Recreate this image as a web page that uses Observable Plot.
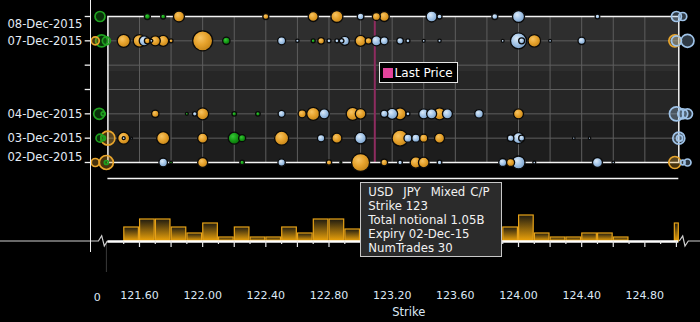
<!DOCTYPE html>
<html><head><meta charset="utf-8">
<script src="https://cdn.jsdelivr.net/npm/d3@7"></script>
<script src="https://cdn.jsdelivr.net/npm/@observablehq/plot@0.6"></script>
<style>
html,body{margin:0;padding:0;background:#000;}
#wrap{position:relative;width:700px;height:322px;overflow:hidden;background:#000;font-family:"DejaVu Sans",sans-serif;}
#wrap svg{position:absolute;left:0;top:0;}
.axisline{position:absolute;left:90px;top:0;width:1.4px;height:252px;background:#f0f0f0;}
#lastLabel{position:absolute;box-sizing:border-box;height:21px;border:1px solid #e6e6e6;background:#000;color:#fff;font-size:12px;display:flex;align-items:center;padding:0 4px 0 3px;white-space:nowrap;}
#lastLabel .sw{width:10px;height:10px;background:#e2449c;margin-right:2px;}
#tip{position:absolute;box-sizing:border-box;width:142px;height:75px;border:1px solid #c8c8c8;background:#2b2b2b;color:#f2f2f2;font-size:11.7px;line-height:14px;padding:1.5px 0 0 7.6px;white-space:pre;}
#tip .l1{word-spacing:1.3px;}
#tip div{height:14px;}
</style></head>
<body><div id="wrap"></div>
<script>
// ---------- data ----------
const axisDays = ["2015-12-02","2015-12-03","2015-12-04","2015-12-05","2015-12-06","2015-12-07","2015-12-08"];
const labelDaysMid = ["2015-12-03","2015-12-04","2015-12-07"];
const labelDayTop = ["2015-12-08"];
const labelDayBottom = ["2015-12-02"];

// types: M = Mixed C/P (orange), C = Call (blue), P = Put (green)
const strikes08 = [121.65,121.75,121.85,122.4,122.7,122.85,123.0,123.1,123.15,123.45,123.5,123.85,124.0,124.5];
const notional08 = [117,81,392,117,324,467,140,207,324,392,81,117,467,69];
const types08 = ["P","P","M","M","M","M","C","M","M","C","C","C","C","C"];

const strikes07 = [121.5,121.6,121.63,121.65,121.675,121.7,121.75,121.8,122.0,122.15,122.5,122.6,122.7,122.75,122.8,122.85,122.88,122.9,123.0,123.05,123.1,123.15,123.25,123.3,123.4,123.5,123.9,124.0,124.02,124.1,124.2,124.4];
const notional07 = [548,514,324,117,29,324,392,52,1296,176,207,37,52,140,52,52,69,263,392,140,324,207,140,52,29,37,29,830,117,514,29,176];
const types07 = ["M","M","C","M","C","M","M","M","M","P","C","C","P","M","C","C","C","C","M","M","C","C","C","C","C","C","C","C","C","M","C","C"];

const strikes04 = [121.7,121.9,121.95,122.0,122.2,122.35,122.5,122.63,122.7,122.77,122.95,123.0,123.15,123.2,123.25,123.3,123.4,123.45,123.5,123.55,123.75,124.0];
const notional04 = [176,29,69,467,69,69,159,207,548,324,548,364,176,392,467,52,324,324,467,324,240,324];
const types04 = ["M","P","C","M","P","P","C","M","M","C","M","M","C","C","M","C","C","C","M","C","C","M"];

const strikes03 = [121.5,121.5,121.55,121.75,122.0,122.2,122.25,122.5,122.75,122.85,123.0,123.25,123.3,123.35,123.4,123.5,123.95,124.0,124.02,124.35,124.45];
const notional03 = [467,29,13,548,324,467,159,635,176,324,421,830,207,207,207,324,140,392,117,22,19];
const types03 = ["M","C","C","M","M","P","P","M","C","M","C","M","C","C","M","M","C","C","C","C","C"];

const strikes02 = [121.75,121.8,122.0,122.25,122.5,122.8,122.875,123.0,123.15,123.25,123.35,123.4,123.5,123.9,123.95,124.0,124.1,124.5,124.6];
const notional02 = [240,22,324,69,176,94,13,1050,140,69,421,364,69,207,207,548,29,324,22];
const types02 = ["C","P","M","P","C","M","P","M","M","C","M","M","C","C","M","C","C","C","C"];

// off-scale trades shown at the axis edges
const edgeDays = ["2015-12-08","2015-12-07","2015-12-07","2015-12-07","2015-12-04","2015-12-04","2015-12-03","2015-12-03","2015-12-03","2015-12-02","2015-12-02","2015-12-02","2015-12-08","2015-12-08","2015-12-07","2015-12-07","2015-12-07","2015-12-04","2015-12-04","2015-12-04","2015-12-03","2015-12-03","2015-12-02","2015-12-02","2015-12-02"];
const edgeStrikes = [121.35,121.32,121.36,121.39,121.345,121.37,121.35,121.37,121.4,121.32,121.39,121.39,125.0,125.04,124.99,125.0,125.07,125.0,125.04,125.07,125.015,125.02,124.99,125.04,125.07];
const edgeNotional = [324,207,467,207,392,52,207,69,635,207,635,52,324,207,467,324,548,635,324,324,467,117,467,69,159];
const edgeTypes = ["P","M","P","P","P","P","P","P","M","M","M","P","C","C","M","C","C","C","C","C","C","C","M","C","C"];

// histogram by strike bucket (0.10 wide)
const histLo = [121.5,121.6,121.7,121.8,121.9,122.0,122.1,122.2,122.3,122.4,122.5,122.6,122.7,122.8,122.9,123.0,123.1,123.2,123.3,123.4,123.5,123.6,123.7,123.8,123.9,124.0,124.1,124.2,124.3,124.4,124.5,124.6];
const histVal = [7,11,11,7,4,9,2,7,2,2,7,4,11,11,6,14,9,8,9,8,7,3,3,4,7,13,4,2,2,4,4,2];
const overflowVal = [9];
const lowLabel = ["0"];

const lastPrice = 123.09;
const hovered = {day:"2015-12-02", strike:123.0, notional:1050, type:"M", trades:30, pair:"USD  JPY"};

const xTickLabels = [121.6,122.0,122.4,122.8,123.2,123.6,124.0,124.4,124.8];
const typeNames = {M:"Mixed C/P", C:"Call", P:"Put"};

// ---------- build ----------
const parse = s => new Date(s + "T00:00:00Z");
const rows = [["2015-12-08",strikes08,notional08,types08],["2015-12-07",strikes07,notional07,types07],["2015-12-04",strikes04,notional04,types04],["2015-12-03",strikes03,notional03,types03],["2015-12-02",strikes02,notional02,types02]];
const bubbles = rows.flatMap(([d,s,n,t]) => s.map((k,i)=>({date:parse(d), strike:k, notional:n[i], type:t[i]}))).sort((a,b)=>b.notional-a.notional);
const edges = edgeDays.map((d,i)=>({date:parse(d), strike:edgeStrikes[i], notional:edgeNotional[i], type:edgeTypes[i]})).sort((a,b)=>b.notional-a.notional);
const hist = histLo.map((lo,i)=>({lo, hi:Math.round((lo+0.1)*100)/100, v:histVal[i]}));
const dayDates = axisDays.map(parse);

const X_DOMAIN = [121.4, 125.015];
const ML = 107.4, MR = 700 - 678.3;
const HIST_TOP = 31.5;
const gridStrikes = d3.range(1216, 1249, 2).map(d=>d/10);
const longTicks = d3.range(1216, 1251, 2).map(d=>d/10);
const shortTicks = d3.range(1215, 1250, 2).map(d=>d/10);
const fmtDay = d3.utcFormat("%d-%b-%Y");
const ringColor = {M:"#e8a52c", C:"#9fc3e8", P:"#1f9f1f"};

const topDefs = () => {
  const defs = d3.create("svg:defs");
  const bands = defs.append("linearGradient").attr("id","bands").attr("x1",0).attr("y1",0).attr("x2",0).attr("y2",1);
  [[0,"#2e2e2e"],[0.375,"#2e2e2e"],[0.375,"#262626"],[0.717,"#262626"],[0.717,"#1d1d1d"],[1,"#1d1d1d"]].forEach(([o,c])=>bands.append("stop").attr("offset",o).attr("stop-color",c));
  const grads = {M:["#f7c462","#e6a22c","#c7871a"], C:["#dcebf9","#a4c5e7","#7da3cc"], P:["#37c737","#169c16","#0a720a"]};
  for (const [k,[a,b,c]] of Object.entries(grads)) {
    const g = defs.append("radialGradient").attr("id","bub-"+k).attr("cx",0.4).attr("cy",0.38).attr("r",0.62).attr("fx",0.38).attr("fy",0.35);
    g.append("stop").attr("offset",0).attr("stop-color",a);
    g.append("stop").attr("offset",0.55).attr("stop-color",b);
    g.append("stop").attr("offset",1).attr("stop-color",c);
  }
  return defs.node();
};

const wrap = document.getElementById("wrap");

const topPlot = Plot.plot({
  width:700, height:322,
  marginLeft:ML, marginRight:MR, marginTop:16, marginBottom:160,
  style:{background:"transparent", color:"#e4ecf6", fontFamily:"DejaVu Sans", overflow:"visible"},
  x:{domain:X_DOMAIN, axis:null},
  y:{type:"utc", domain:[dayDates[0], dayDates[6]], axis:null},
  r:{domain:[0,1050], range:[0,9]},
  color:{type:"identity"},
  marks:[
    topDefs,
    Plot.frame({fill:"url(#bands)", stroke:"none"}),
    Plot.ruleX(gridStrikes, {stroke:"#5e5e5e", strokeWidth:1}),
    Plot.ruleY(dayDates.slice(1,6), {stroke:"#5e5e5e", strokeWidth:1}),
    Plot.ruleX([lastPrice], {stroke:"#8e2c60", strokeWidth:2}),
    Plot.frame({stroke:"#f4f4f4", strokeWidth:1.5}),
    Plot.axisY(dayDates, {anchor:"left", tickSize:6, dx:-16.7, stroke:"#f0f0f0", strokeWidth:1.3, fill:"none"}),
    Plot.dot(edges, {x:"strike", y:"date", r:"notional", stroke:d=>ringColor[d.type], fill:d=>ringColor[d.type], fillOpacity:0.3, strokeWidth:1.7}),
    Plot.dot(bubbles, {x:"strike", y:"date", r:"notional", fill:d=>`url(#bub-${d.type})`, stroke:"#0a0a0a", strokeWidth:1.3}),
    Plot.text(labelDaysMid.map(parse), {y:d=>d, text:d=>fmtDay(d), frameAnchor:"left", textAnchor:"end", dx:-25.4, fill:"#e4ecf6", fontSize:11.6}),
    Plot.text(labelDayTop.map(parse), {y:d=>d, text:d=>fmtDay(d), frameAnchor:"left", textAnchor:"end", dx:-25.4, dy:8, fill:"#e4ecf6", fontSize:11.6}),
    Plot.text(labelDayBottom.map(parse), {y:d=>d, text:d=>fmtDay(d), frameAnchor:"left", textAnchor:"end", dx:-25.4, dy:-5, fill:"#e4ecf6", fontSize:11.6})
  ]
});

const histDefs = () => {
  const defs = d3.create("svg:defs");
  const g = defs.append("linearGradient").attr("id","histGrad").attr("x1",0).attr("y1",0).attr("x2",0).attr("y2",1);
  g.append("stop").attr("offset",0).attr("stop-color","#1f1b10");
  g.append("stop").attr("offset",1).attr("stop-color","#eea40a");
  return defs.node();
};
const breakMarks = () => {
  const yb = 322 - 81, xl = ML, xr = 700 - MR;
  const g = d3.create("svg:g").attr("fill","none");
  g.append("path").attr("d",`M${xl-1},${yb}V${yb+31}`).attr("stroke","#3a3a3a").attr("stroke-width",1);
  g.append("path").attr("d",`M0,${yb}H${xl-9}L${xl-5.7},${yb-5.3}L${xl-3.1},${yb+5}L${xl},${yb}`).attr("stroke","#d0d0d0").attr("stroke-width",1.2);
  g.append("path").attr("d",`M${xr+1},${yb}L${xr+4.4},${yb-5}L${xr+6.7},${yb+5}L${xr+10},${yb}H700`).attr("stroke","#d0d0d0").attr("stroke-width",1.2);
  return g.node();
};

const bottomPlot = Plot.plot({
  width:700, height:322,
  marginLeft:ML, marginRight:MR, marginTop:178, marginBottom:81,
  style:{background:"transparent", color:"#dce8f5", fontFamily:"DejaVu Sans", overflow:"visible"},
  x:{domain:X_DOMAIN},
  y:{domain:[0, HIST_TOP], axis:null},
  marks:[
    histDefs,
    breakMarks,
    Plot.rectY(hist, {x1:"lo", x2:"hi", y:"v", fill:"url(#histGrad)", stroke:"#e8a317", strokeWidth:1.2, insetLeft:0.6, insetRight:0.6}),
    Plot.rectY(overflowVal, {x1:124.99, x2:X_DOMAIN[1], y:d=>d, fill:"url(#histGrad)", stroke:"#e8a317", strokeWidth:1.2}),
    Plot.ruleY([0], {stroke:"#ffffff", strokeWidth:2.5}),
    Plot.ruleY([HIST_TOP], {stroke:"#f4f4f4", strokeWidth:1.3}),
    Plot.axisX(longTicks, {anchor:"bottom", tickSize:6, fill:"none", stroke:"#e6e6e6", strokeWidth:1.2}),
    Plot.axisX(shortTicks, {anchor:"bottom", tickSize:3, fill:"none", stroke:"#e6e6e6", strokeWidth:1.2}),
    Plot.text(xTickLabels, {x:d=>d, text:d=>d.toFixed(2), frameAnchor:"bottom", dy:57, fill:"#dce8f5", fontSize:11}),
    Plot.text(lowLabel, {text:d=>d, frameAnchor:"bottom-left", dx:-14.2, dy:59, fill:"#dce8f5", fontSize:11}),
    Plot.text(["Strike"], {text:d=>d, frameAnchor:"bottom", dx:15.4, dy:74.7, fill:"#dce8f5", fontSize:11.5})
  ]
});

wrap.appendChild(bottomPlot);
wrap.appendChild(topPlot);

const axisLine = document.createElement("div");
axisLine.className = "axisline";
wrap.appendChild(axisLine);

const xs = topPlot.scale("x"), ys = topPlot.scale("y");
const lab = document.createElement("div");
lab.id = "lastLabel";
lab.innerHTML = '<span class="sw"></span><span>Last Price</span>';
lab.style.left = (xs.apply(lastPrice) + 4.3) + "px";
lab.style.top = (ys.apply(dayDates[4]) - 2.4) + "px";
wrap.appendChild(lab);

const tip = document.createElement("div");
tip.id = "tip";
const hd = parse(hovered.day);
const lines = [
  `${hovered.pair}  ${typeNames[hovered.type]}`,
  `Strike ${hovered.strike}`,
  `Total notional ${(hovered.notional/1000).toFixed(2)}B`,
  `Expiry ${d3.utcFormat("%d-%b-%y")(hd)}`,
  `NumTrades ${hovered.trades}`
];
lines.forEach((t,i)=>{ const d = document.createElement("div"); if (i===0) d.className = "l1"; d.textContent = t; tip.appendChild(d); });
tip.style.left = (xs.apply(hovered.strike) - 0.3) + "px";
tip.style.top = (ys.apply(hd) + 20.3) + "px";
wrap.appendChild(tip);
</script></body></html>
